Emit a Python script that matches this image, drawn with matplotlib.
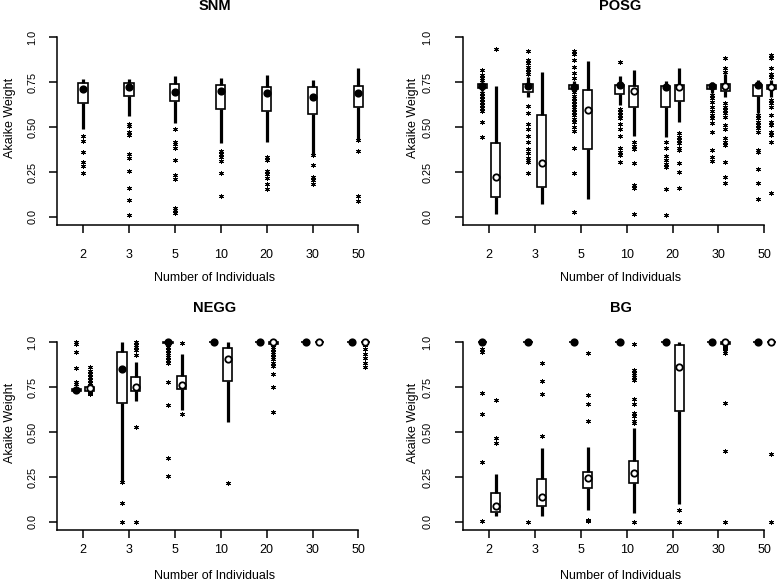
import matplotlib
matplotlib.use("Agg")
from matplotlib import pyplot as plt

plt.rcParams['font.family'] = ['Liberation Sans', 'DejaVu Sans']

groups = ['2', '3', '5', '10', '20', '30', '50']
y_ticks = [0.0, 0.25, 0.5, 0.75, 1.0]
y_tick_labels = ['0.0', '0.25', '0.50', '0.75', '1.0']

# SNM: one box per group
snm_lo = [0.487, 0.561, 0.520, 0.409, 0.415, 0.344, 0.428]
snm_q1 = [0.635, 0.672, 0.644, 0.600, 0.591, 0.574, 0.611]
snm_mid = [0.711, 0.720, 0.696, 0.700, 0.691, 0.669, 0.689]
snm_q3 = [0.743, 0.743, 0.739, 0.733, 0.722, 0.722, 0.728]
snm_hi = [0.765, 0.769, 0.783, 0.770, 0.789, 0.761, 0.826]
snm_out = [
    [0.452, 0.424, 0.361, 0.304, 0.283, 0.246],
    [0.519, 0.506, 0.470, 0.454, 0.352, 0.326, 0.257, 0.159, 0.094, 0.011],
    [0.491, 0.419, 0.407, 0.385, 0.317, 0.235, 0.211, 0.048, 0.037, 0.024],
    [0.367, 0.352, 0.335, 0.311, 0.246, 0.117],
    [0.333, 0.317, 0.257, 0.239, 0.219, 0.181, 0.154],
    [0.342, 0.287, 0.224, 0.206, 0.183],
    [0.428, 0.367, 0.117, 0.091],
]

# POSG: filled (a) and open (b) boxes
posg_a_lo = [0.700, 0.665, 0.700, 0.622, 0.446, 0.687, 0.576]
posg_a_q1 = [0.718, 0.693, 0.711, 0.683, 0.611, 0.709, 0.672]
posg_a_mid = [0.727, 0.728, 0.724, 0.733, 0.724, 0.726, 0.733]
posg_a_q3 = [0.737, 0.740, 0.733, 0.733, 0.730, 0.733, 0.733]
posg_a_hi = [0.750, 0.780, 0.755, 0.785, 0.756, 0.752, 0.761]
posg_a_out = [
    [0.819, 0.789, 0.770, 0.761, 0.691, 0.672, 0.656, 0.637, 0.622, 0.604, 0.589, 0.530, 0.446],
    [0.924, 0.872, 0.854, 0.835, 0.822, 0.807, 0.793, 0.617, 0.580, 0.519, 0.487, 0.452, 0.419,
     0.378, 0.357, 0.328, 0.317, 0.306, 0.246],
    [0.924, 0.906, 0.872, 0.835, 0.798, 0.770, 0.696, 0.672, 0.659, 0.644, 0.628, 0.613, 0.600,
     0.581, 0.567, 0.543, 0.526, 0.502, 0.478, 0.385, 0.246, 0.030],
    [0.859, 0.600, 0.581, 0.567, 0.548, 0.517, 0.489, 0.452, 0.385, 0.363, 0.344, 0.307],
    [0.419, 0.381, 0.341, 0.317, 0.293, 0.280, 0.156, 0.011],
    [0.678, 0.659, 0.637, 0.613, 0.589, 0.567, 0.548, 0.520, 0.474, 0.372, 0.335, 0.311],
    [0.567, 0.548, 0.530, 0.511, 0.493, 0.470, 0.372, 0.359, 0.267, 0.187, 0.100],
]
posg_b_lo = [0.017, 0.072, 0.098, 0.450, 0.530, 0.669, 0.669]
posg_b_q1 = [0.109, 0.169, 0.376, 0.611, 0.644, 0.702, 0.709]
posg_b_mid = [0.224, 0.302, 0.594, 0.700, 0.724, 0.728, 0.724]
posg_b_q3 = [0.409, 0.567, 0.706, 0.730, 0.733, 0.737, 0.733]
posg_b_hi = [0.730, 0.804, 0.867, 0.817, 0.826, 0.793, 0.761]
posg_b_out = [
    [0.933],
    [],
    [],
    [0.419, 0.396, 0.378, 0.298, 0.178, 0.159, 0.017],
    [0.465, 0.446, 0.428, 0.409, 0.381, 0.372, 0.298, 0.252, 0.159],
    [0.881, 0.826, 0.807, 0.631, 0.613, 0.594, 0.576, 0.557, 0.511, 0.489, 0.437, 0.419, 0.400,
     0.307, 0.224, 0.187],
    [0.900, 0.881, 0.826, 0.793, 0.780, 0.650, 0.631, 0.613, 0.567, 0.530, 0.511, 0.474, 0.456,
     0.419, 0.131],
]

# NEGG
negg_a_lo = [0.726, 0.230, 0.990, 1.0, 1.0, 1.0, 1.0]
negg_a_q1 = [0.726, 0.659, 0.995, 1.0, 1.0, 1.0, 1.0]
negg_a_mid = [0.731, 0.850, 1.0, 1.0, 1.0, 1.0, 1.0]
negg_a_q3 = [0.741, 0.943, 1.0, 1.0, 1.0, 1.0, 1.0]
negg_a_hi = [0.741, 1.0, 1.0, 1.0, 1.0, 1.0, 1.0]
negg_a_out = [
    [1.0, 0.989, 0.943, 0.857, 0.780, 0.765],
    [0.220, 0.104, 0.002],
    [0.983, 0.970, 0.956, 0.941, 0.928, 0.915, 0.900, 0.885, 0.776, 0.650, 0.357, 0.256],
    [], [], [], [],
]
negg_b_lo = [0.722, 0.672, 0.622, 0.557, 0.985, 1.0, 1.0]
negg_b_q1 = [0.730, 0.728, 0.737, 0.785, 0.989, 1.0, 1.0]
negg_b_mid = [0.743, 0.748, 0.761, 0.906, 0.998, 1.0, 1.0]
negg_b_q3 = [0.752, 0.804, 0.813, 0.969, 1.0, 1.0, 1.0]
negg_b_hi = [0.760, 0.891, 0.931, 1.0, 1.0, 1.0, 1.0]
negg_b_out = [
    [0.859, 0.841, 0.822, 0.807, 0.789, 0.774, 0.719, 0.709],
    [0.998, 0.983, 0.970, 0.956, 0.928, 0.530, 0.002],
    [0.993, 0.600],
    [0.215],
    [0.974, 0.959, 0.946, 0.933, 0.919, 0.904, 0.881, 0.869, 0.822, 0.748, 0.613],
    [],
    [0.983, 0.959, 0.933, 0.909, 0.881, 0.859],
]

# BG
bg_a_lo = [1.0, 1.0, 1.0, 1.0, 1.0, 1.0, 1.0]
bg_a_q1 = [1.0, 1.0, 1.0, 1.0, 1.0, 1.0, 1.0]
bg_a_mid = [1.0, 1.0, 1.0, 1.0, 1.0, 1.0, 1.0]
bg_a_q3 = [1.0, 1.0, 1.0, 1.0, 1.0, 1.0, 1.0]
bg_a_hi = [1.0, 1.0, 1.0, 1.0, 1.0, 1.0, 1.0]
bg_a_out = [
    [0.959, 0.946, 0.715, 0.598, 0.331, 0.006],
    [0.002],
    [], [], [], [], [],
]
bg_b_lo = [0.035, 0.035, 0.067, 0.052, 0.100, 0.956, 1.0]
bg_b_q1 = [0.054, 0.089, 0.187, 0.219, 0.619, 0.990, 1.0]
bg_b_mid = [0.091, 0.141, 0.246, 0.274, 0.863, 1.0, 1.0]
bg_b_q3 = [0.163, 0.239, 0.276, 0.341, 0.983, 1.0, 1.0]
bg_b_hi = [0.267, 0.409, 0.419, 0.520, 1.0, 1.0, 1.0]
bg_b_out = [
    [0.676, 0.469, 0.441],
    [0.885, 0.785, 0.709, 0.478],
    [0.937, 0.706, 0.654, 0.563, 0.011, 0.006],
    [0.989, 0.844, 0.830, 0.817, 0.804, 0.789, 0.683, 0.656, 0.604, 0.589, 0.563, 0.552, 0.002],
    [0.067, 0.002],
    [0.974, 0.965, 0.952, 0.941, 0.659, 0.396, 0.002],
    [0.376, 0.002],
]


def make_stats(lo, q1, mid, q3, hi, out):
    return [dict(whislo=lo[i], q1=q1[i], med=mid[i], mean=mid[i], q3=q3[i], whishi=hi[i],
                 fliers=out[i]) for i in range(len(lo))]


def draw_boxes(ax, stats, offset, filled):
    positions = [i + 1 + offset for i in range(len(stats))]
    face = 'black' if filled else 'white'
    ax.bxp(stats, positions=positions, widths=0.2, patch_artist=True, showcaps=False,
           showmeans=True, manage_ticks=False,
           boxprops=dict(facecolor='white', edgecolor='black', linewidth=1.2),
           whiskerprops=dict(color='black', linewidth=2.3, solid_capstyle='butt'),
           medianprops=dict(linewidth=0),
           meanprops=dict(marker='o', markersize=4.6, markerfacecolor=face, markeredgecolor='black',
                          markeredgewidth=1.3, zorder=4),
           flierprops=dict(marker=(6, 2, 0), markersize=3.4, markeredgecolor='black',
                           markeredgewidth=0.7, linestyle='none'))


def style_axes(ax, title, title_y, xpad, ypad, ylab_x, xlab_y):
    ax.set_xlim(0.434, 7.3)
    ax.set_ylim(-0.044, 1.04)
    ax.spines['top'].set_visible(False)
    ax.spines['right'].set_visible(False)
    ax.spines['left'].set_bounds(-0.044, 1.0)
    ax.spines['bottom'].set_bounds(0.434, 7)
    for side in ['left', 'bottom']:
        ax.spines[side].set_linewidth(1.1)
    ax.set_xticks(range(1, 8))
    ax.set_xticklabels(groups)
    ax.set_yticks(y_ticks)
    ax.set_yticklabels(y_tick_labels)
    ax.tick_params(axis='both', direction='out', length=6, width=1.1)
    ax.tick_params(axis='x', pad=xpad, labelsize=9)
    ax.tick_params(axis='y', pad=ypad, labelsize=7.8)
    for lab in ax.get_yticklabels():
        lab.set_rotation(90)
        lab.set_va('center')
    ax.set_ylabel('Akaike Weight', fontsize=9)
    ax.yaxis.set_label_coords(ylab_x, 0.55)
    ax.yaxis.label.set_va('center')
    ax.set_xlabel('Number of Individuals', fontsize=9)
    ax.xaxis.set_label_coords(0.5, xlab_y)
    ax.xaxis.label.set_va('center')
    ax.text(0.5, title_y, title, transform=ax.transAxes, ha='center', va='center',
            fontsize=10.5, fontweight='bold')


fig = plt.figure(figsize=(7.77, 5.87), dpi=100)
ax_snm = fig.add_axes([0.0734, 0.6169, 0.4056, 0.3323])
ax_posg = fig.add_axes([0.5959, 0.6169, 0.4056, 0.3323])
ax_negg = fig.add_axes([0.0734, 0.0973, 0.4056, 0.3323])
ax_bg = fig.add_axes([0.5959, 0.0973, 0.4056, 0.3323])

draw_boxes(ax_snm, make_stats(snm_lo, snm_q1, snm_mid, snm_q3, snm_hi, snm_out), 0.0, True)

draw_boxes(ax_posg, make_stats(posg_a_lo, posg_a_q1, posg_a_mid, posg_a_q3, posg_a_hi, posg_a_out), -0.15, True)
draw_boxes(ax_posg, make_stats(posg_b_lo, posg_b_q1, posg_b_mid, posg_b_q3, posg_b_hi, posg_b_out), 0.15, False)

draw_boxes(ax_negg, make_stats(negg_a_lo, negg_a_q1, negg_a_mid, negg_a_q3, negg_a_hi, negg_a_out), -0.15, True)
draw_boxes(ax_negg, make_stats(negg_b_lo, negg_b_q1, negg_b_mid, negg_b_q3, negg_b_hi, negg_b_out), 0.15, False)

draw_boxes(ax_bg, make_stats(bg_a_lo, bg_a_q1, bg_a_mid, bg_a_q3, bg_a_hi, bg_a_out), -0.15, True)
draw_boxes(ax_bg, make_stats(bg_b_lo, bg_b_q1, bg_b_mid, bg_b_q3, bg_b_hi, bg_b_out), 0.15, False)

style_axes(ax_snm, 'SNM', 1.122, 11.5, 8, -0.149, -0.272)
style_axes(ax_posg, 'POSG', 1.122, 11.5, 16, -0.159, -0.272)
style_axes(ax_negg, 'NEGG', 1.136, 4.5, 8, -0.149, -0.236)
style_axes(ax_bg, 'BG', 1.136, 4.5, 16, -0.159, -0.236)

fig.savefig('out.png', dpi=100)
